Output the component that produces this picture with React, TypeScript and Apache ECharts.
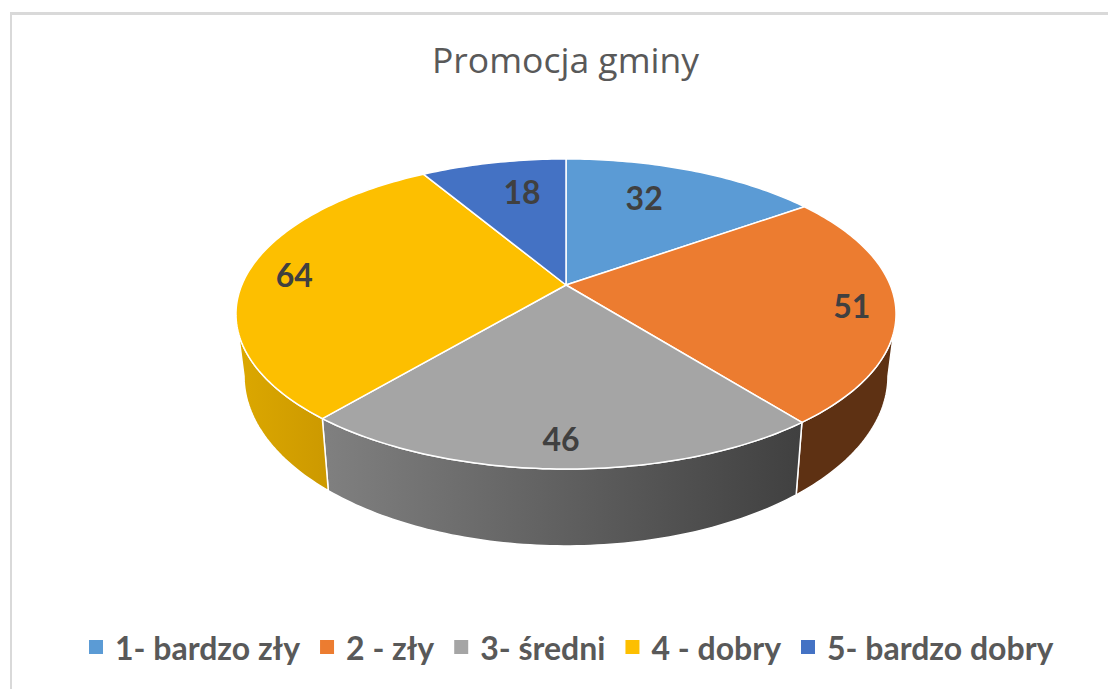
import React, { useEffect, useRef } from "react";
import * as echarts from "echarts";

const titleText = "Promocja gminy";
const categories = ["1- bardzo zły", "2 - zły", "3- średni", "4 - dobry", "5- bardzo dobry"];
const values = [32, 51, 46, 64, 18];
const topColors = ["#5B9BD5", "#EC7C30", "#A5A5A5", "#FDBF00", "#4472C4"];
const sideLeft = ["#3F6D96", "#5E3113", "#808080", "#DCA800", "#2F5090"];
const sideRight = ["#3F6D96", "#5E3113", "#404040", "#CC9900", "#2F5090"];
// Label placement inside each slice: radial fraction and angular shift in degrees from the slice middle
const labelRadius = [0.7, 0.87, 0.87, 0.85, 0.71];
const labelShift = [-4.6, 1.3, 0, -0.6, 2.9];

const total = values.reduce((a, b) => a + b, 0);
const starts = values.map((_, i) => values.slice(0, i).reduce((a, b) => a + b, 0));

const CX = 566;
const K = 0.187;
const TOP = { y0: 285, a: 149.6, b: 324.2 };
const BOTTOM = { y0: 344.2, a: 164, b: 316.3 };
const SIDE_FROM = 90 + (Math.asin(K) * 180) / Math.PI;
const SIDE_TO = 360 - SIDE_FROM;

function project(plane: { y0: number; a: number; b: number }, deg: number, r = 1) {
  const t = (deg * Math.PI) / 180;
  const u = r * Math.sin(t);
  const v = -r * Math.cos(t);
  const s = 1 / (1 - K * v);
  return [CX + plane.b * u * s, plane.y0 + plane.a * v * s];
}

function arc(plane: { y0: number; a: number; b: number }, from: number, to: number) {
  const pts: number[][] = [];
  const n = Math.max(2, Math.ceil(Math.abs(to - from)));
  for (let i = 0; i <= n; i++) pts.push(project(plane, from + ((to - from) * i) / n));
  return pts;
}

function renderSlice(index: number) {
  return (_params: any, api: any) => {
    const start = api.value(0);
    const value = api.value(1);
    const a0 = (start / total) * 360;
    const a1 = ((start + value) / total) * 360;
    const children: any[] = [];
    const s0 = Math.max(a0, SIDE_FROM);
    const s1 = Math.min(a1, SIDE_TO);
    if (s1 > s0) {
      children.push({
        type: "polygon",
        z2: 1,
        shape: { points: [...arc(TOP, s0, s1), ...arc(BOTTOM, s1, s0)] },
        style: {
          fill: new echarts.graphic.LinearGradient(0, 0, 1, 0, [
            { offset: 0, color: sideLeft[index] },
            { offset: 1, color: sideRight[index] },
          ]),
          stroke: "#ffffff",
          lineWidth: 1.5,
          lineJoin: "round",
        },
      });
    }
    children.push({
      type: "polygon",
      z2: 10,
      shape: { points: [project(TOP, 0, 0), ...arc(TOP, a0, a1)] },
      style: { fill: topColors[index], stroke: "#ffffff", lineWidth: 1.5, lineJoin: "round" },
    });
    const [lx, ly] = project(TOP, (a0 + a1) / 2 + labelShift[index], labelRadius[index]);
    children.push({
      type: "text",
      z2: 20,
      x: lx,
      y: ly - 1.5,
      style: {
        text: String(value),
        fill: "#404040",
        font: "bold 32px Lato",
        align: "center",
        verticalAlign: "middle",
      },
    });
    return { type: "group", children };
  };
}

export default function App() {
  const ref = useRef<HTMLDivElement>(null);
  useEffect(() => {
    if (!ref.current) return;
    const chart = echarts.init(ref.current, undefined, { renderer: "svg" });
    chart.setOption({
      animation: false,
      backgroundColor: "#ffffff",
      color: topColors,
      title: {
        text: titleText,
        left: 565.5,
        textAlign: "center",
        top: 41,
        padding: 0,
        textStyle: { color: "#595959", fontFamily: "Open Sans", fontWeight: "normal", fontSize: 35.5 },
      },
      legend: {
        left: 89,
        top: 631,
        padding: 0,
        icon: "rect",
        itemWidth: 14,
        itemHeight: 14,
        itemGap: 20,
        data: categories,
        textStyle: {
          color: "#595959",
          fontFamily: "Lato",
          fontWeight: "bold",
          fontSize: 32,
          padding: [0, 0, 0, 7],
        },
      },
      graphic: [
        { type: "rect", silent: true, shape: { x: 10, y: 12, width: 1098, height: 3 }, style: { fill: "#D9D9D9" } },
        { type: "rect", silent: true, shape: { x: 10, y: 12, width: 2, height: 677 }, style: { fill: "#D9D9D9" } },
      ],
      series: categories.map((name, i) => ({
        type: "custom",
        name,
        coordinateSystem: "none",
        silent: true,
        itemStyle: { color: topColors[i] },
        renderItem: renderSlice(i),
        data: [[starts[i], values[i]]],
      })),
    });
    return () => chart.dispose();
  }, []);
  return <div ref={ref} style={{ position: "fixed", left: 0, top: 0, width: 1108, height: 689 }} />;
}
